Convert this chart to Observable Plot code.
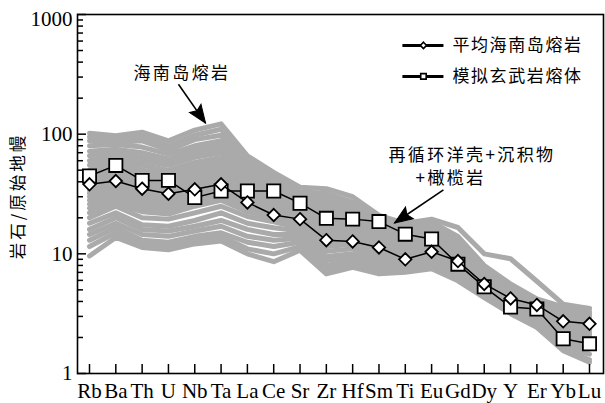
<!DOCTYPE html>
<html>
<head>
<meta charset="utf-8">
<script src="https://cdn.jsdelivr.net/npm/d3@7"></script>
<script src="https://cdn.jsdelivr.net/npm/@observablehq/plot@0.6"></script>
<style>
  html, body { margin: 0; padding: 0; background: #fff; }
  #chart { width: 605px; height: 403px; }
</style>
</head>
<body>
<div id="chart"></div>
<script>
// Primitive-mantle normalised trace elements
const elements = ["Rb","Ba","Th","U","Nb","Ta","La","Ce","Sr","Zr","Hf","Sm","Ti","Eu","Gd","Dy","Y","Er","Yb","Lu"];

// Average Hainan lava
const meanHainan = [38.1, 40.6, 35.0, 31.8, 34.6, 38.1, 26.9, 21.1, 19.5, 13.0, 12.7, 11.3, 9.0, 10.4, 8.7, 5.6, 4.24, 3.74, 2.73, 2.60];
// Modelled basaltic melt
const modelMelt = [44.7, 54.8, 41.1, 41.1, 29.5, 33.5, 33.5, 33.5, 26.5, 19.8, 19.5, 18.6, 14.6, 13.3, 8.2, 5.3, 3.6, 3.46, 1.95, 1.77];

// Individual Hainan lava samples
const hainanSamples = [
  [102, 97, 104, 88, 108, 122, 66, 48, 36, 35, 30, 21, 18, 19.5, 16.6, 10, 9.1, 5.9, 3.8, 3.5],
  [95, 92, 96, 80, 98, 110, 62, 45, 33, 32, 27, 20, 17, 18.5, 14, 8, 5.6, 4.2, 3.6, 3.5],
  [88, 85, 88, 74, 90, 98, 58, 42, 31, 30, 25, 19, 16, 17.5, 13.5, 7.6, 5.3, 4.0, 3.4, 3.3],
  [80, 82, 78, 68, 80, 88, 55, 40, 30, 28, 24, 18, 15.5, 17, 13, 7.4, 5.1, 3.9, 3.3, 3.2],
  [72, 75, 70, 62, 74, 82, 52, 38, 29, 26, 23, 17.5, 15, 16.5, 12.5, 7.2, 5.0, 3.8, 3.2, 3.1],
  [66, 70, 64, 58, 68, 76, 48, 36, 28, 25, 22, 17, 14.5, 16, 12, 7.0, 4.8, 3.7, 3.1, 3.0],
  [60, 66, 60, 55, 64, 70, 46, 35, 27, 24, 21, 16.5, 14, 15.5, 11.5, 6.8, 4.7, 3.6, 3.0, 2.9],
  [55, 62, 55, 50, 58, 64, 44, 33, 26, 23, 20, 16, 13.5, 15, 11, 6.6, 4.6, 3.5, 2.9, 2.8],
  [50, 58, 50, 47, 54, 60, 42, 32, 25.5, 22, 19, 15.5, 13, 14.5, 10.8, 6.4, 4.5, 3.4, 2.8, 2.7],
  [46, 54, 47, 44, 50, 56, 40, 31, 25, 21, 18.5, 15, 12.8, 14, 10.5, 6.3, 4.4, 3.3, 2.7, 2.6],
  [43, 50, 44, 41, 47, 52, 38, 30, 24, 20, 18, 14.5, 12.5, 13.5, 10.2, 6.2, 4.3, 3.2, 2.6, 2.5],
  [40, 46, 41, 38, 44, 49, 36, 29, 23.5, 19, 17, 14, 12.2, 13, 10, 6.1, 4.2, 3.1, 2.5, 2.4],
  [37, 42, 38, 35, 41, 46, 34, 28, 23, 18, 16.5, 13.5, 12, 12.8, 9.8, 6.0, 4.1, 3.0, 2.4, 2.3],
  [34, 39, 35, 33, 38, 43, 32, 27, 22, 17, 16, 13, 11.5, 12.5, 9.5, 5.8, 4.0, 2.95, 2.35, 2.2],
  [32, 36, 32, 31, 35, 40, 30, 26, 21, 16, 15, 12.5, 11, 12, 9.2, 5.7, 3.9, 2.9, 2.3, 2.15],
  [30, 34, 30, 29, 33, 37, 28.5, 25, 20, 15.5, 14.5, 12, 10.8, 11.5, 9, 5.6, 3.8, 2.85, 2.2, 2.1],
  [28, 31, 28, 27, 31, 34, 27, 23.5, 19, 15, 14, 11.5, 10.5, 11.2, 8.8, 5.5, 3.7, 2.8, 2.15, 2.0],
  [26, 29, 26, 25, 29, 32, 25.5, 22, 18.5, 14, 13.5, 11, 10.2, 11, 8.5, 5.3, 3.6, 2.75, 2.1, 1.95],
  [24, 28, 24, 23, 27, 30, 24, 21, 18, 13.5, 13, 10.5, 10, 10.5, 8.2, 5.2, 3.55, 2.7, 2.05, 1.9],
  [22, 26, 22.5, 21.5, 25, 28, 22.5, 20, 17, 12.5, 12.5, 10.2, 9.7, 10.2, 8.0, 5.0, 3.5, 2.65, 2.0, 1.85],
  [20, 25, 20, 19.5, 22, 25, 20.5, 18.5, 16.5, 11.5, 12, 9.8, 9.4, 10, 7.8, 4.9, 3.45, 2.6, 1.95, 1.8],
  [18, 22, 17.5, 17, 19, 22, 18, 16.5, 15.5, 10.5, 11, 9.2, 9, 9.5, 7.4, 4.8, 3.4, 2.55, 1.9, 1.75],
  [16, 20, 16, 15.5, 17, 19, 16, 14.5, 14.5, 9.5, 10, 8.6, 8.5, 9, 7.2, 4.7, 3.35, 2.5, 1.85, 1.7],
  [14.5, 18, 14.5, 14, 15.5, 17, 14, 13, 13.5, 8.8, 9.5, 8.2, 8.1, 8.6, 6.9, 4.6, 3.3, 2.5, 1.75, 1.6],
  [13, 16.5, 13, 12.5, 14, 15, 12.5, 11.5, 12.5, 8, 8.8, 7.6, 7.7, 8.2, 6.6, 4.5, 3.25, 2.45, 1.65, 1.45],
  [11.5, 15, 12, 11.5, 13, 14, 11, 10, 11.5, 7.4, 8.2, 7.2, 7.3, 7.8, 6.2, 4.4, 3.2, 2.45, 1.6, 1.3],
  [9.6, 13.7, 11.3, 10.8, 12.1, 12.8, 10, 8.6, 10.7, 6.8, 7.7, 6.8, 7.0, 7.5, 5.95, 4.3, 3.16, 2.43, 1.55, 1.24]
];

// Axis ticks
const yMajorTicks = [1, 10, 100, 1000];
const yMinorTicks = [2, 3, 4, 5, 6, 7, 8, 9, 20, 30, 40, 50, 60, 70, 80, 90, 200, 300, 400, 500, 600, 700, 800, 900];
const yLabel = "岩石/原始地幔";

// Legend entries
const legendLabels = ["平均海南岛熔岩", "模拟玄武岩熔体"];
const legendSymbols = ["diamond2", "square2"];
const legendY = [552, 304];

// Annotations (x as element index, y as normalised value)
const notes = [
  {text: "海南岛熔岩", x: 1.67, y: 319},
  {text: "再循环洋壳+沉积物", x: 11.36, y: 66.8},
  {text: "+橄榄岩", x: 12.39, y: 42.2}
];
const arrows = [
  {x1: 3.38, y1: 261, x2: 4.41, y2: 123.6},
  {x1: 13.45, y1: 34.2, x2: 11.59, y2: 18.1}
];

const W = 605, H = 403;
const xOpts = {domain: [0, 19], range: [89, 589], label: null};
const yOpts = {type: "log", domain: [1, 1000], label: null};
const margins = {marginLeft: 77, marginRight: 2, marginTop: 14, marginBottom: 30};

const sampleRows = hainanSamples.flatMap((vals, s) => vals.map((v, i) => ({s, i, v})));
const meanRows = meanHainan.map((v, i) => ({i, v}));
const meltRows = modelMelt.map((v, i) => ({i, v}));
const legendRows = legendLabels.map((label, k) => ({label, symbol: legendSymbols[k], y: legendY[k]}));

// Screen-space direction of each arrow, for rotating the arrowhead
const xs = Plot.scale({x: xOpts});
const ys = Plot.scale({y: {...yOpts, range: [H - margins.marginBottom, margins.marginTop]}});
const headAngle = d => {
  const dx = xs.apply(d.x2) - xs.apply(d.x1);
  const dy = ys.apply(d.y2) - ys.apply(d.y1);
  return Math.atan2(dx, -dy) * 180 / Math.PI;
};
// Filled arrowhead with its tip at the origin, pointing up
const arrowHead = {
  draw(ctx) {
    ctx.moveTo(0, 0);
    ctx.lineTo(7, 18);
    ctx.lineTo(0, 15);
    ctx.lineTo(-7, 18);
    ctx.closePath();
  }
};

const cjk = "Noto Sans CJK SC";

const chart = Plot.plot({
  width: W,
  height: H,
  ...margins,
  x: xOpts,
  y: yOpts,
  style: {fontFamily: "Liberation Serif, Times New Roman, serif", fontSize: "21px", background: "#fff", color: "#000"},
  marks: [
    // sample envelope
    Plot.line(sampleRows, {x: "i", y: "v", z: "s", stroke: "#aaaaaa", strokeWidth: 5, strokeLinejoin: "round"}),
    // modelled melt
    Plot.line(meltRows, {x: "i", y: "v", stroke: "#000", strokeWidth: 1.5}),
    Plot.dot(meltRows, {x: "i", y: "v", symbol: "square2", r: 8.4, fill: "#fff", stroke: "#000", strokeWidth: 1.8}),
    // average Hainan lava
    Plot.line(meanRows, {x: "i", y: "v", stroke: "#000", strokeWidth: 1.5}),
    Plot.dot(meanRows, {x: "i", y: "v", symbol: "diamond2", r: 5.6, fill: "#fff", stroke: "#000", strokeWidth: 1.8}),

    // inward ticks
    Plot.tickX(elements.map((_, i) => i), {x: d => d, stroke: "#000", strokeWidth: 1.5, insetTop: 350}),
    Plot.tickY(yMajorTicks, {y: d => d, stroke: "#000", strokeWidth: 1.5, insetRight: 517}),
    Plot.tickY(yMinorTicks, {y: d => d, stroke: "#000", strokeWidth: 1.5, insetRight: 520}),
    Plot.frame({stroke: "#000", strokeWidth: 1.6}),

    // tick labels
    Plot.axisX({ticks: elements.map((_, i) => i), tickFormat: i => elements[i], tickSize: 0, tickPadding: 10, label: null}),
    Plot.axisY({ticks: [1, 10, 100], tickFormat: d => String(d), tickSize: 0, tickPadding: 5, label: null}),
    Plot.axisY({ticks: [1000], tickFormat: d => String(d), tickSize: 0, tickPadding: 5, dy: 5, label: null}),

    // y title
    Plot.text([yLabel], {frameAnchor: "left", textAnchor: "middle", dx: -59, dy: 2, rotate: -90, fontFamily: cjk, fontSize: 16.5, fill: "#000"}),

    // legend
    Plot.link(legendRows, {x1: 11.89, x2: 13.45, y1: "y", y2: "y", stroke: "#000", strokeWidth: 3}),
    Plot.dot(legendRows, {x: 12.69, y: "y", symbol: "symbol", r: d => d.symbol === "square2" ? 6.4 : 4.2, fill: "#fff", stroke: "#000", strokeWidth: 1.6}),
    Plot.text(legendRows, {x: 13.79, y: "y", text: "label", textAnchor: "start", fontFamily: cjk, fontSize: 17, fill: "#000"}),

    // annotations
    Plot.text(notes, {x: "x", y: "y", text: "text", textAnchor: "start", fontFamily: cjk, fontSize: 17, fill: "#000"}),
    Plot.link(arrows, {x1: "x1", y1: "y1", x2: "x2", y2: "y2", stroke: "#000", strokeWidth: 1.6}),
    Plot.dot(arrows, {x: "x2", y: "y2", symbol: arrowHead, r: 1, rotate: headAngle, fill: "#000", stroke: "#000", strokeWidth: 1})
  ]
});

// Letter spacing for the Chinese labels
const spacing = new Map([[yLabel, "3px"], ...legendLabels.map(t => [t, "1.6px"]), ...notes.map(n => [n.text, "2.4px"])]);
chart.querySelectorAll("text").forEach(t => {
  const s = spacing.get(t.textContent);
  if (s) t.style.letterSpacing = s;
});

document.getElementById("chart").appendChild(chart);
</script>
</body>
</html>
